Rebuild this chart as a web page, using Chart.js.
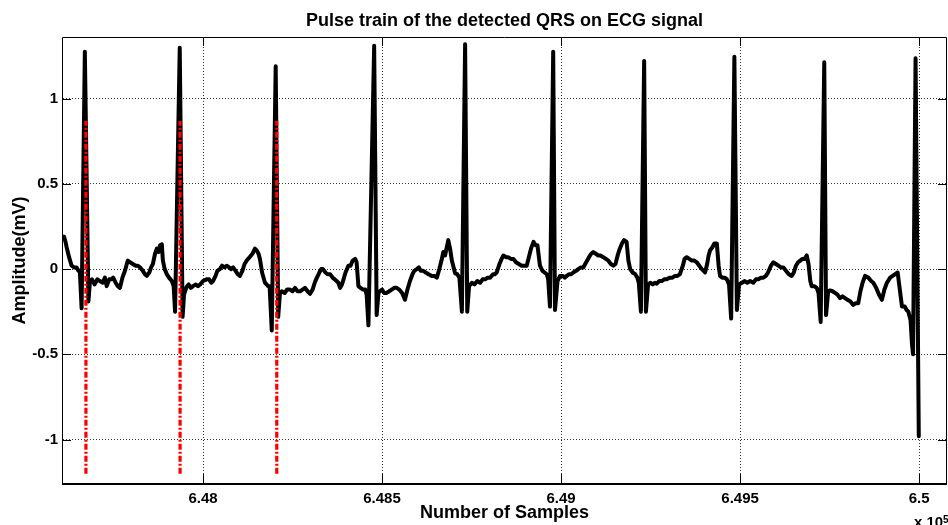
<!DOCTYPE html>
<html>
<head>
<meta charset="utf-8">
<title>QRS pulse train</title>
<script src="https://cdn.jsdelivr.net/npm/chart.js@4.4.0/dist/chart.umd.min.js"></script>
<style>
  html, body { margin: 0; padding: 0; background: #fff; }
  #wrap { width: 948px; height: 525px; }
</style>
</head>
<body>
<div id="wrap"><canvas id="ecg-chart" width="948" height="525"></canvas></div>
<script>
// ECG trace: sample index and amplitude in mV
var ecgSamples = [
  647609, 647612, 647616, 647619, 647626, 647633, 647640, 647647, 647652, 647656,
  647661, 647670, 647680, 647684, 647690, 647697, 647705, 647712, 647720, 647726,
  647731, 647738, 647744, 647749, 647756, 647762, 647768, 647775, 647782, 647790,
  647797, 647804, 647812, 647818, 647824, 647832, 647838, 647843, 647850, 647855,
  647860, 647866, 647871, 647876, 647880, 647885, 647888, 647893, 647899, 647905,
  647913, 647918, 647922, 647935, 647943, 647947, 647954, 647960, 647966, 647972,
  647980, 647986, 647992, 648000, 648010, 648017, 648023, 648028, 648035, 648040,
  648047, 648053, 648060, 648066, 648073, 648078, 648084, 648091, 648097, 648103,
  648110, 648116, 648122, 648130, 648138, 648145, 648150, 648155, 648159, 648165,
  648173, 648182, 648186, 648192, 648203, 648210, 648215, 648220, 648228, 648235,
  648243, 648250, 648257, 648264, 648271, 648278, 648285, 648292, 648299, 648306,
  648312, 648318, 648325, 648330, 648335, 648342, 648348, 648355, 648362, 648368,
  648373, 648378, 648383, 648388, 648391, 648398, 648406, 648412, 648418, 648425,
  648429, 648434, 648440, 648447, 648453, 648457, 648462, 648478, 648485, 648490,
  648494, 648500, 648506, 648513, 648520, 648527, 648534, 648541, 648548, 648556,
  648564, 648571, 648578, 648585, 648590, 648597, 648603, 648608, 648615, 648622,
  648630, 648639, 648646, 648653, 648660, 648666, 648671, 648676, 648681, 648685,
  648690, 648695, 648700, 648704, 648710, 648716, 648723, 648732, 648738, 648743,
  648751, 648758, 648766, 648774, 648781, 648788, 648795, 648802, 648810, 648815,
  648820, 648828, 648834, 648839, 648846, 648852, 648860, 648867, 648874, 648882,
  648890, 648897, 648904, 648910, 648916, 648923, 648929, 648934, 648941, 648948,
  648954, 648960, 648964, 648969, 648978, 648983, 648990, 648997, 649005, 649010,
  649016, 649022, 649028, 649034, 649042, 649048, 649055, 649062, 649070, 649078,
  649084, 649090, 649097, 649104, 649110, 649118, 649125, 649132, 649139, 649146,
  649152, 649158, 649164, 649170, 649176, 649183, 649188, 649193, 649200, 649207,
  649213, 649217, 649223, 649232, 649237, 649243, 649249, 649256, 649262, 649267,
  649274, 649281, 649288, 649295, 649304, 649311, 649318, 649325, 649332, 649340,
  649345, 649351, 649358, 649365, 649372, 649379, 649386, 649393, 649398, 649402,
  649408, 649412, 649416, 649423, 649428, 649435, 649440, 649444, 649450, 649457,
  649463, 649469, 649475, 649484, 649491, 649497, 649505, 649512, 649520, 649528,
  649537, 649544, 649551, 649558, 649565, 649572, 649578, 649586, 649593, 649600,
  649607, 649614, 649621, 649628, 649636, 649644, 649650, 649656, 649662, 649668,
  649674, 649680, 649686, 649691, 649696, 649700, 649707, 649714, 649719, 649725,
  649735, 649740, 649746, 649751, 649758, 649765, 649772, 649779, 649786, 649793,
  649800, 649808, 649816, 649823, 649830, 649836, 649842, 649849, 649858, 649866,
  649872, 649880, 649888, 649896, 649903, 649910, 649919, 649926, 649933, 649940,
  649946, 649952, 649960, 649965, 649970, 649976, 649980, 649983, 649990, 649999
];

var ecgMillivolts = [
  0.18, 0.19, 0.16, 0.13, 0.07, 0.02, 0.01, 0.01, -0.01, -0.01,
  -0.23, 1.276, -0.19, -0.08, -0.06, -0.09, -0.06, -0.07, -0.08, -0.05,
  -0.10, -0.06, -0.06, -0.05, -0.08, -0.10, -0.11, -0.05, -0.01, 0.05,
  0.04, 0.03, 0.02, 0.02, 0.01, -0.01, -0.03, -0.04, -0.02, 0.01,
  0.03, 0.09, 0.12, 0.10, 0.14, 0.145, 0.05, 0.00, -0.03, -0.05,
  -0.07, -0.10, -0.25, 1.299, -0.28, -0.15, -0.105, -0.09, -0.11, -0.10,
  -0.09, -0.10, -0.09, -0.07, -0.06, -0.06, -0.08, -0.07, -0.04, -0.01,
  0.00, 0.02, 0.01, 0.02, 0.01, 0.00, 0.01, -0.01, -0.03, -0.04,
  -0.01, 0.03, 0.05, 0.07, 0.09, 0.12, 0.11, 0.09, 0.06, -0.02,
  -0.08, -0.10, -0.10, -0.36, 1.19, -0.28, -0.14, -0.13, -0.14, -0.12,
  -0.12, -0.13, -0.11, -0.13, -0.13, -0.12, -0.11, -0.13, -0.145, -0.12,
  -0.08, -0.05, -0.02, 0.00, 0.00, -0.02, -0.03, -0.03, -0.05, -0.06,
  -0.07, -0.08, -0.11, -0.09, -0.07, -0.02, 0.02, 0.02, 0.05, 0.06,
  0.04, -0.10, -0.11, -0.12, -0.12, -0.15, -0.33, 1.311, -0.27, -0.14,
  -0.13, -0.12, -0.14, -0.14, -0.13, -0.12, -0.11, -0.11, -0.12, -0.14,
  -0.18, -0.12, -0.07, -0.03, -0.01, 0.00, 0.01, -0.01, -0.01, -0.02,
  -0.03, -0.04, -0.04, -0.05, 0.00, 0.05, 0.10, 0.08, 0.13, 0.17,
  0.12, 0.05, 0.01, -0.025, -0.03, -0.05, -0.25, 1.319, -0.25, -0.10,
  -0.08, -0.09, -0.07, -0.08, -0.06, -0.06, -0.05, -0.05, -0.03, -0.03,
  -0.02, 0.03, 0.06, 0.08, 0.07, 0.07, 0.06, 0.06, 0.04, 0.03,
  0.02, 0.02, 0.02, 0.07, 0.12, 0.16, 0.14, 0.14, 0.02, -0.01,
  -0.02, -0.03, -0.06, -0.22, 1.276, -0.24, -0.07, -0.04, -0.04, -0.05,
  -0.04, -0.03, -0.03, -0.02, -0.01, 0.00, 0.01, 0.01, 0.04, 0.07,
  0.09, 0.10, 0.09, 0.08, 0.08, 0.07, 0.06, 0.05, 0.03, 0.02,
  0.03, 0.08, 0.12, 0.15, 0.17, 0.16, 0.05, 0.00, -0.02, -0.03,
  -0.05, -0.08, -0.25, 1.221, -0.25, -0.09, -0.08, -0.09, -0.08, -0.085,
  -0.07, -0.07, -0.06, -0.06, -0.05, -0.05, -0.04, -0.04, -0.03, 0.02,
  0.06, 0.07, 0.06, 0.05, 0.05, 0.04, 0.02, 0.00, -0.01, -0.02,
  0.03, 0.08, 0.11, 0.13, 0.15, 0.15, 0.02, -0.04, -0.05, -0.05,
  -0.06, -0.09, -0.29, 1.246, -0.24, -0.09, -0.08, -0.07, -0.08, -0.07,
  -0.08, -0.06, -0.06, -0.05, -0.05, -0.04, -0.02, 0.02, 0.04, 0.03,
  0.02, 0.01, 0.01, -0.01, -0.03, -0.04, -0.02, 0.02, 0.04, 0.05,
  0.06, 0.06, 0.08, 0.03, -0.07, -0.10, -0.10, -0.11, -0.14, -0.31,
  1.213, -0.27, -0.13, -0.125, -0.13, -0.14, -0.15, -0.17, -0.16, -0.17,
  -0.18, -0.19, -0.21, -0.20, -0.20, -0.13, -0.08, -0.04, -0.05, -0.07,
  -0.08, -0.11, -0.15, -0.18, -0.12, -0.08, -0.05, -0.04, -0.03, -0.02,
  -0.12, -0.22, -0.22, -0.24, -0.25, -0.30, -0.44, -0.50, 1.237, -0.98
];

// detected QRS pulses
var pulseSamples = [647673, 647936, 648206];
var pulseHigh = 0.87;
var pulseLow = -1.2;

// axes
var xMin = 647609, xMax = 650075;
var yMin = -1.255, yMax = 1.356;
var xTicks = [648000, 648500, 649000, 649500, 650000];
var xTickLabels = ["6.48", "6.485", "6.49", "6.495", "6.5"];
var yTicks = [-1, -0.5, 0, 0.5, 1];
var yTickLabels = ["-1", "-0.5", "0", "0.5", "1"];

var FONT = "'Liberation Sans', Arial, Helvetica, sans-serif";
Chart.defaults.font.family = FONT;
Chart.defaults.color = "#000";

var ecgData = ecgSamples.map(function (s, i) {
  return { x: s, y: ecgMillivolts[i] };
});

var pulseData = [];
pulseSamples.forEach(function (s) {
  pulseData.push({ x: s, y: pulseLow }, { x: s, y: pulseHigh }, { x: s, y: null });
});

// box round the plot, inward tick marks and the x10^5 multiplier
var axesBox = {
  id: "axesBox",
  afterDraw: function (chart) {
    var ctx = chart.ctx;
    var a = chart.chartArea;
    var xs = chart.scales.x;
    var ys = chart.scales.y;
    ctx.save();
    ctx.strokeStyle = "#000";
    ctx.lineWidth = 1;
    ctx.beginPath();
    ctx.moveTo(a.left - 0.5, a.bottom);
    ctx.lineTo(a.left - 0.5, a.top - 0.5);
    ctx.lineTo(a.right + 0.5, a.top - 0.5);
    ctx.lineTo(a.right + 0.5, a.bottom);
    ctx.stroke();

    ctx.beginPath();
    xTicks.forEach(function (v) {
      var px = Math.round(xs.getPixelForValue(v)) + 0.5;
      ctx.moveTo(px, a.bottom);
      ctx.lineTo(px, a.bottom - 9);
      ctx.moveTo(px, a.top);
      ctx.lineTo(px, a.top + 8);
    });
    yTicks.forEach(function (v) {
      var py = Math.round(ys.getPixelForValue(v)) + 0.5;
      ctx.moveTo(a.left, py);
      ctx.lineTo(a.left + 8, py);
      ctx.moveTo(a.right, py);
      ctx.lineTo(a.right - 8, py);
    });
    ctx.stroke();

    ctx.lineWidth = 2;
    ctx.beginPath();
    ctx.moveTo(a.left - 1, a.bottom + 1);
    ctx.lineTo(a.right + 1, a.bottom + 1);
    ctx.stroke();

    ctx.fillStyle = "#000";
    ctx.textBaseline = "alphabetic";
    ctx.textAlign = "left";
    ctx.font = "bold 15px " + FONT;
    ctx.fillText("x 10", a.right - 32, 527);
    ctx.font = "bold 10px " + FONT;
    ctx.fillText("5", a.right - 3, 523);
    ctx.restore();
  }
};

var ctx = document.getElementById("ecg-chart");
var ecgChart = new Chart(ctx, {
  type: "line",
  data: {
    datasets: [
      {
        label: "QRS pulses",
        data: pulseData,
        borderColor: "#ff0000",
        borderWidth: 3.2,
        borderDash: [6, 2, 2, 2],
        pointRadius: 0,
        spanGaps: false,
        order: 1
      },
      {
        label: "ECG",
        data: ecgData,
        borderColor: "#000",
        borderWidth: 4,
        borderJoinStyle: "round",
        borderCapStyle: "round",
        pointRadius: 0,
        tension: 0,
        order: 2
      }
    ]
  },
  options: {
    responsive: false,
    animation: false,
    devicePixelRatio: 1,
    layout: { padding: { left: 0, right: 2, top: 0, bottom: 0 } },
    plugins: {
      legend: { display: false },
      tooltip: { enabled: false },
      title: {
        display: true,
        text: "Pulse train of the detected QRS on ECG signal",
        fullSize: false,
        color: "#000",
        font: { size: 18, weight: "bold" },
        padding: { top: 10, bottom: 6.4 }
      }
    },
    scales: {
      x: {
        type: "linear",
        min: xMin,
        max: xMax,
        afterBuildTicks: function (scale) {
          scale.ticks = xTicks.map(function (v) { return { value: v }; });
        },
        afterFit: function (scale) {
          scale.height = 42;
        },
        ticks: {
          autoSkip: false,
          maxRotation: 0,
          padding: 7,
          font: { size: 15, weight: "bold" },
          callback: function (v) {
            return xTickLabels[xTicks.indexOf(v)];
          }
        },
        grid: { color: "rgba(0,0,0,0.8)", lineWidth: 1, drawTicks: false },
        border: { display: false, dash: [1, 2] },
        title: {
          display: true,
          text: "Number of Samples",
          font: { size: 18, weight: "bold" },
          padding: { top: 0, bottom: 1 }
        }
      },
      y: {
        min: yMin,
        max: yMax,
        afterBuildTicks: function (scale) {
          scale.ticks = yTicks.map(function (v) { return { value: v }; });
        },
        afterFit: function (scale) {
          scale.width = 63;
        },
        ticks: {
          padding: 5,
          font: { size: 15, weight: "bold" },
          callback: function (v) {
            return yTickLabels[yTicks.indexOf(v)];
          }
        },
        grid: { color: "rgba(0,0,0,0.8)", lineWidth: 1, drawTicks: false },
        border: { display: false, dash: [1, 2] },
        title: {
          display: true,
          text: "Amplitude(mV)",
          font: { size: 18, weight: "bold" },
          padding: { top: 9, bottom: 0 }
        }
      }
    }
  },
  plugins: [axesBox]
});
</script>
</body>
</html>
